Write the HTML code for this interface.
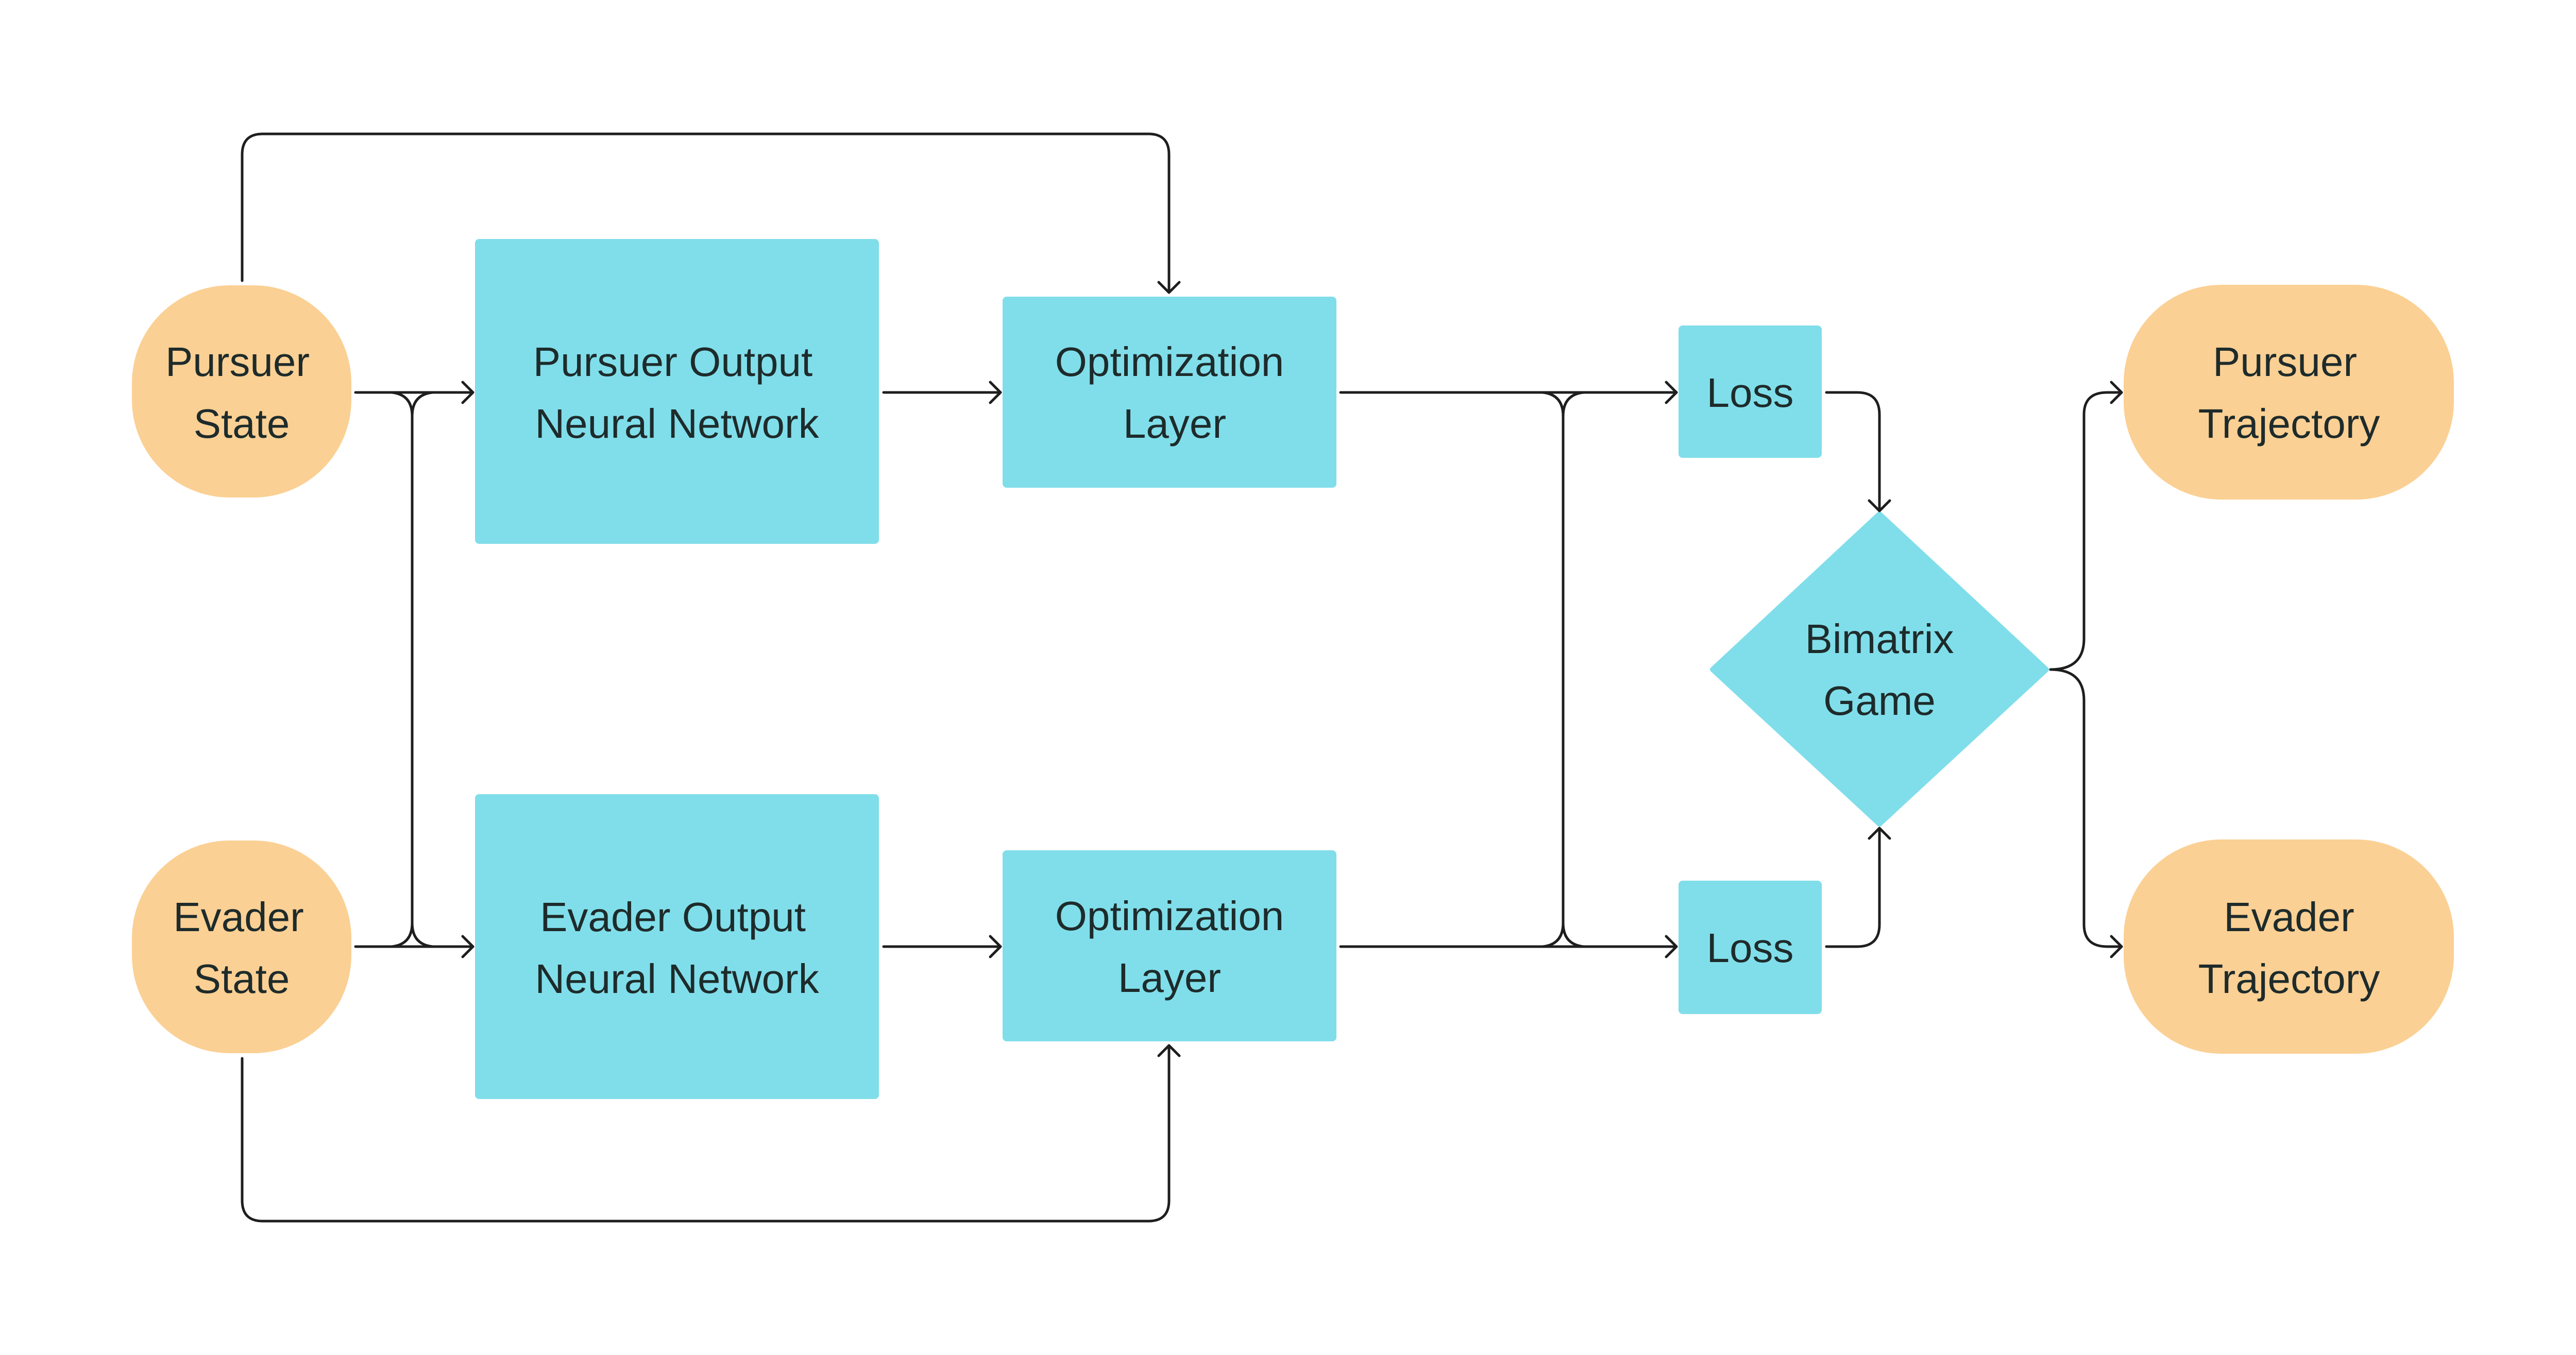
<!DOCTYPE html>
<html><head><meta charset="utf-8"><style>
html,body{margin:0;padding:0;background:#fff;}
svg{display:block}
text{font-family:"Liberation Sans",sans-serif;font-size:80px;fill:#1e2b2b;text-anchor:middle;}
</style></head><body>
<svg width="5019" height="2631" viewBox="0 0 5019 2631" xmlns="http://www.w3.org/2000/svg">
<rect width="5019" height="2631" fill="#fff"/>
<!-- nodes -->
<rect x="256" y="554" width="426" height="412" rx="190" fill="#FBD094"/>
<rect x="256" y="1632" width="426" height="413" rx="190" fill="#FBD094"/>
<rect x="922" y="464" width="784" height="592" rx="8" fill="#80DEEA"/>
<rect x="922" y="1542" width="784" height="592" rx="8" fill="#80DEEA"/>
<rect x="1946" y="576" width="648" height="371" rx="8" fill="#80DEEA"/>
<rect x="1946" y="1651" width="648" height="371" rx="8" fill="#80DEEA"/>
<rect x="3258" y="632" width="278" height="257" rx="8" fill="#80DEEA"/>
<rect x="3258" y="1710" width="278" height="259" rx="8" fill="#80DEEA"/>
<path d="M3648,998 L3972,1300 L3648,1600 L3324,1300 Z" fill="#80DEEA" stroke="#80DEEA" stroke-width="10" stroke-linejoin="round"/>
<rect x="4122" y="553" width="641" height="417" rx="190" fill="#FBD094"/>
<rect x="4122" y="1630" width="641" height="416" rx="190" fill="#FBD094"/>
<!-- labels -->
<text x="461" y="730">Pursuer</text><text x="469" y="850">State</text>
<text x="463" y="1808">Evader</text><text x="469" y="1928">State</text>
<text x="1306" y="730">Pursuer Output</text><text x="1314" y="850">Neural Network</text>
<text x="1306" y="1808">Evader Output</text><text x="1314" y="1928">Neural Network</text>
<text x="2270" y="730">Optimization</text><text x="2280" y="850">Layer</text>
<text x="2270" y="1806">Optimization</text><text x="2270" y="1926">Layer</text>
<text x="3397" y="790">Loss</text><text x="3397" y="1868">Loss</text>
<text x="3648" y="1268">Bimatrix</text><text x="3648" y="1388">Game</text>
<text x="4435" y="730">Pursuer</text><text x="4443" y="850">Trajectory</text>
<text x="4443" y="1808">Evader</text><text x="4443" y="1928">Trajectory</text>
<!-- connectors -->
<g fill="none" stroke="#1e1e1e" stroke-width="5" stroke-linecap="round" stroke-linejoin="round">
<path d="M470,545 V300 Q470,260 510,260 H2229 Q2269,260 2269,300 V568"/>
<path d="M2249,548 L2269,568 L2289,548"/>
<path d="M470,2055 V2331 Q470,2371 510,2371 H2229 Q2269,2371 2269,2331 V2030"/>
<path d="M2249,2050 L2269,2030 L2289,2050"/>
<path d="M690,762 H918"/><path d="M898,742 L918,762 L898,782"/>
<path d="M690,1838 H918"/><path d="M898,1818 L918,1838 L898,1858"/>
<path d="M760,762 Q800,766 800,808 V1792 Q800,1834 760,1838"/>
<path d="M840,762 Q800,766 800,808"/><path d="M800,1792 Q800,1834 840,1838"/>
<path d="M1715,762 H1942"/><path d="M1922,742 L1942,762 L1922,782"/>
<path d="M1715,1838 H1942"/><path d="M1922,1818 L1942,1838 L1922,1858"/>
<path d="M2602,762 H3254"/><path d="M3234,742 L3254,762 L3234,782"/>
<path d="M2602,1838 H3254"/><path d="M3234,1818 L3254,1838 L3234,1858"/>
<path d="M2994,762 Q3034,766 3034,808 V1792 Q3034,1834 2994,1838"/>
<path d="M3074,762 Q3034,766 3034,808"/><path d="M3034,1792 Q3034,1834 3074,1838"/>
<path d="M3545,762 H3605 Q3648,762 3648,805 V992"/><path d="M3628,972 L3648,992 L3668,972"/>
<path d="M3545,1838 H3605 Q3648,1838 3648,1795 V1608"/><path d="M3628,1628 L3648,1608 L3668,1628"/>
<path d="M3980,1300 Q4045,1300 4045,1240 V805 Q4045,762 4090,762 H4118"/>
<path d="M4098,742 L4118,762 L4098,782"/>
<path d="M3980,1300 Q4045,1300 4045,1360 V1795 Q4045,1838 4090,1838 H4118"/>
<path d="M4098,1818 L4118,1838 L4098,1858"/>
</g>
</svg>
</body></html>
